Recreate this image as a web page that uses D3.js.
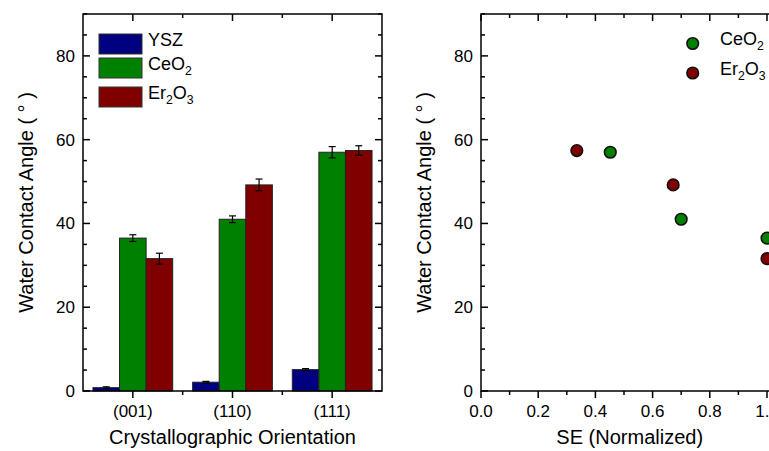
<!DOCTYPE html>
<html>
<head>
  <title>Water Contact Angle</title>
  <script src="https://d3js.org/d3.v7.min.js"></script>
  <style>
    body { margin: 0; background: #fff; }
    text { font-family: "Liberation Sans", Arial, sans-serif; fill: #000; }
  </style>
</head>
<body>
  <svg id="chart"></svg>
  <script>
    // data
    const orientations = ["(001)", "(110)", "(111)"];
    const materials = ["YSZ", "CeO2", "Er2O3"];
    const yszAngle = [0.8, 2.1, 5.1];
    const yszErr = [0.2, 0.2, 0.25];
    const ceo2Angle = [36.5, 41.0, 57.0];
    const ceo2Err = [0.8, 0.8, 1.35];
    const er2o3Angle = [31.6, 49.2, 57.4];
    const er2o3Err = [1.3, 1.4, 1.15];
    // normalized surface energy for (001), (110), (111)
    const ceo2SE = [1.0, 0.70, 0.452];
    const er2o3SE = [1.0, 0.672, 0.335];
    const yTicks = [0, 20, 40, 60, 80];
    const seTicks = [0.0, 0.2, 0.4, 0.6, 0.8, 1.0];

    const colors = { YSZ: "#000080", CeO2: "#008000", Er2O3: "#800000" };
    const angles = { YSZ: yszAngle, CeO2: ceo2Angle, Er2O3: er2o3Angle };
    const errs = { YSZ: yszErr, CeO2: ceo2Err, Er2O3: er2o3Err };

    const W = 769, H = 451;
    const svg = d3.select("#chart").attr("width", W).attr("height", H);

    const plotTop = 14, plotBottom = 391;
    const y = d3.scaleLinear().domain([0, 90]).range([plotBottom, plotTop]);
    const minorY = d3.range(0, 91, 5);

    // helper: write a chemical label with subscripts, e.g. "Er2O3"
    function chem(sel, label, size) {
      const parts = label.match(/[A-Za-z]+|\d+/g);
      parts.forEach(p => {
        if (/\d/.test(p)) {
          sel.append("tspan").attr("font-size", size * 0.68).attr("dy", 5).text(p);
        } else {
          sel.append("tspan").attr("font-size", size).attr("dy", sel.selectAll("tspan").size() ? -5 : 0).text(p);
        }
      });
    }

    // ---------- left panel: bars ----------
    const L = { x0: 83, x1: 382 };
    const xBand = d3.scaleBand().domain(orientations).range([L.x0, L.x1])
      .paddingInner(0.2).paddingOuter(0.1);
    const xInner = d3.scaleBand().domain(materials).range([0, xBand.bandwidth()]);
    const xCat = d3.scaleLinear().domain([0, 3]).range([L.x0, L.x1]);

    const gL = svg.append("g");

    const barData = [];
    materials.forEach(m => orientations.forEach((o, i) => {
      barData.push({ m: m, o: o, v: angles[m][i], e: errs[m][i] });
    }));

    gL.selectAll("rect.bar").data(barData).enter().append("rect")
      .attr("class", "bar")
      .attr("x", d => xBand(d.o) + xInner(d.m))
      .attr("width", xInner.bandwidth())
      .attr("y", d => y(d.v))
      .attr("height", d => y(0) - y(d.v))
      .attr("fill", d => colors[d.m])
      .attr("stroke", "#222")
      .attr("stroke-width", 1);

    // error bars
    const eb = gL.selectAll("g.err").data(barData).enter().append("g")
      .attr("transform", d => `translate(${xBand(d.o) + xInner(d.m) + xInner.bandwidth() / 2},0)`);
    eb.append("line").attr("y1", d => y(d.v - d.e)).attr("y2", d => y(d.v + d.e))
      .attr("stroke", "#000").attr("stroke-width", 1.2);
    eb.append("line").attr("x1", -3.5).attr("x2", 3.5)
      .attr("y1", d => y(d.v + d.e)).attr("y2", d => y(d.v + d.e))
      .attr("stroke", "#000").attr("stroke-width", 1.2);
    eb.append("line").attr("x1", -3.5).attr("x2", 3.5)
      .attr("y1", d => y(d.v - d.e)).attr("y2", d => y(d.v - d.e))
      .attr("stroke", "#000").attr("stroke-width", 1.2);

    function drawYAxis(g, x0, x1, rightSide) {
      // left axis, ticks inward
      g.selectAll(null).data(minorY).enter().append("line")
        .attr("x1", x0).attr("x2", d => x0 + (d % 20 === 0 ? 7 : 4))
        .attr("y1", d => y(d)).attr("y2", d => y(d))
        .attr("stroke", "#000").attr("stroke-width", 1.5);
      if (rightSide) {
        g.selectAll(null).data(minorY).enter().append("line")
          .attr("x1", x1).attr("x2", d => x1 - (d % 20 === 0 ? 7 : 4))
          .attr("y1", d => y(d)).attr("y2", d => y(d))
          .attr("stroke", "#000").attr("stroke-width", 1.5);
      }
      g.selectAll(null).data(yTicks).enter().append("text")
        .attr("x", x0 - 8).attr("y", d => y(d) + 6)
        .attr("text-anchor", "end").attr("font-size", 17)
        .text(d => d);
      g.append("text")
        .attr("transform", `translate(${x0 - 50},${(plotTop + plotBottom) / 2}) rotate(-90)`)
        .attr("text-anchor", "middle").attr("font-size", 20)
        .text("Water Contact Angle ( \u00B0 )");
    }

    drawYAxis(gL, L.x0, L.x1, true);

    // bottom axis of left panel
    orientations.forEach((o, i) => {
      const cx = xBand(o) + xBand.bandwidth() / 2;
      gL.append("line").attr("x1", cx).attr("x2", cx).attr("y1", plotBottom).attr("y2", plotBottom + 7)
        .attr("stroke", "#000").attr("stroke-width", 1.5);
      gL.append("line").attr("x1", cx).attr("x2", cx).attr("y1", plotTop).attr("y2", plotTop + 7)
        .attr("stroke", "#000").attr("stroke-width", 1.5);
    });
    [1, 2].forEach(b => {
      gL.append("line").attr("x1", xCat(b)).attr("x2", xCat(b)).attr("y1", plotBottom).attr("y2", plotBottom + 4)
        .attr("stroke", "#000").attr("stroke-width", 1.5);
      gL.append("line").attr("x1", xCat(b)).attr("x2", xCat(b)).attr("y1", plotTop).attr("y2", plotTop + 4)
        .attr("stroke", "#000").attr("stroke-width", 1.5);
    });
    gL.selectAll(null).data(orientations).enter().append("text")
      .attr("x", d => xBand(d) + xBand.bandwidth() / 2).attr("y", plotBottom + 26)
      .attr("text-anchor", "middle").attr("font-size", 17).text(d => d);
    gL.append("text").attr("x", (L.x0 + L.x1) / 2).attr("y", 444)
      .attr("text-anchor", "middle").attr("font-size", 20).text("Crystallographic Orientation");

    gL.append("rect").attr("x", L.x0).attr("y", plotTop).attr("width", L.x1 - L.x0).attr("height", plotBottom - plotTop)
      .attr("fill", "none").attr("stroke", "#000").attr("stroke-width", 1.5);

    // legend
    const legRows = [{ m: "YSZ", y: 34 }, { m: "CeO2", y: 58 }, { m: "Er2O3", y: 87 }];
    legRows.forEach(r => {
      gL.append("rect").attr("x", 99).attr("y", r.y).attr("width", 43).attr("height", 20)
        .attr("fill", colors[r.m]).attr("stroke", "#333").attr("stroke-width", 1);
      const t = gL.append("text").attr("x", 148).attr("y", r.y + 17);
      chem(t, r.m, 18);
    });

    // ---------- right panel: scatter ----------
    // the frame runs past the right edge of the picture
    const x = d3.scaleLinear().domain([0, 1]).range([481, 767]);
    const R = { x0: x(0), x1: x(1.04) };
    const gR = svg.append("g");

    drawYAxis(gR, R.x0, R.x1, false);

    const seMinor = d3.range(0, 11).map(i => i / 10);
    gR.selectAll(null).data(seMinor).enter().append("line")
      .attr("x1", d => x(d)).attr("x2", d => x(d))
      .attr("y1", plotBottom).attr("y2", (d, i) => plotBottom + (i % 2 === 0 ? 7 : 4))
      .attr("stroke", "#000").attr("stroke-width", 1.5);
    gR.selectAll(null).data(seMinor).enter().append("line")
      .attr("x1", d => x(d)).attr("x2", d => x(d))
      .attr("y1", plotTop).attr("y2", (d, i) => plotTop + (i % 2 === 0 ? 7 : 4))
      .attr("stroke", "#000").attr("stroke-width", 1.5);
    gR.selectAll(null).data(seTicks).enter().append("text")
      .attr("x", d => x(d)).attr("y", plotBottom + 26)
      .attr("text-anchor", "middle").attr("font-size", 17).text(d => d.toFixed(1));
    gR.append("text").attr("x", (R.x0 + R.x1) / 2).attr("y", 444)
      .attr("text-anchor", "middle").attr("font-size", 20).text("SE (Normalized)");

    gR.append("rect").attr("x", R.x0).attr("y", plotTop).attr("width", R.x1 - R.x0).attr("height", plotBottom - plotTop)
      .attr("fill", "none").attr("stroke", "#000").attr("stroke-width", 1.5);

    const pts = [];
    orientations.forEach((o, i) => {
      pts.push({ m: "CeO2", se: ceo2SE[i], v: ceo2Angle[i] });
      pts.push({ m: "Er2O3", se: er2o3SE[i], v: er2o3Angle[i] });
    });
    gR.selectAll("circle.pt").data(pts).enter().append("circle")
      .attr("class", "pt")
      .attr("cx", d => x(d.se)).attr("cy", d => y(d.v)).attr("r", 5.8)
      .attr("fill", d => colors[d.m]).attr("stroke", "#111").attr("stroke-width", 1.6);

    const legR = [{ m: "CeO2", y: 43.5 }, { m: "Er2O3", y: 73 }];
    legR.forEach(r => {
      gR.append("circle").attr("cx", 692.7).attr("cy", r.y).attr("r", 5.8)
        .attr("fill", colors[r.m]).attr("stroke", "#111").attr("stroke-width", 1.6);
      const t = gR.append("text").attr("x", 720).attr("y", r.y + 6.5);
      chem(t, r.m, 18);
    });
  </script>
</body>
</html>
